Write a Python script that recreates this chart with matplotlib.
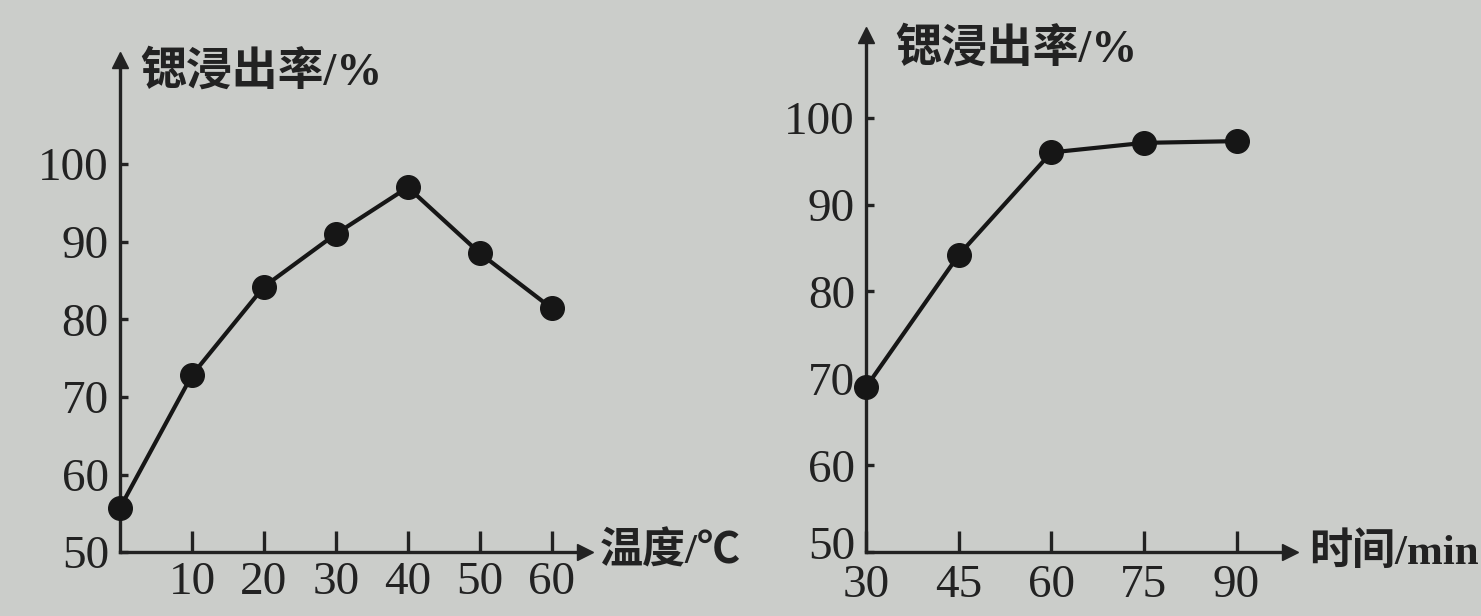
import matplotlib.pyplot as plt
from matplotlib.transforms import ScaledTranslation

# 温度 vs 锶浸出率
temp = [0, 10, 20, 30, 40, 50, 60]
rate_temp = [55.7, 72.8, 84.2, 91.0, 97.0, 88.5, 81.4]
temp_ticks = [10, 20, 30, 40, 50, 60]

# 时间 vs 锶浸出率
time_min = [30, 45, 60, 75, 90]
rate_time = [69.0, 84.2, 96.0, 97.1, 97.3]
time_ticks = [30, 45, 60, 75, 90]

y_ticks = [50, 60, 70, 80, 90, 100]
ylabel = "锶浸出率/%"

bg = "#cbcdca"
ink = "#222222"
fam = ["Liberation Serif", "Noto Sans CJK SC"]
plt.rcParams["font.family"] = fam

fig = plt.figure(figsize=(14.81, 6.16), dpi=100, facecolor=bg)
ax1 = fig.add_axes([0.081, 0.1036, 0.314, 0.799])
ax2 = fig.add_axes([0.5848, 0.1036, 0.286, 0.8394])


def style(ax, xticks, xlim, ylim, xlabel, title_pos, xlab_x, xpad):
    ax.set_facecolor(bg)
    for s in ("top", "right"):
        ax.spines[s].set_visible(False)
    for s in ("left", "bottom"):
        ax.spines[s].set_linewidth(2.4)
        ax.spines[s].set_color(ink)
    ax.set_xlim(*xlim)
    ax.set_ylim(*ylim)
    ax.set_xticks(xticks)
    ax.set_yticks(y_ticks)
    ax.tick_params(axis="x", direction="in", length=15, width=2.4, color=ink,
                   labelsize=34, labelcolor=ink, pad=xpad)
    ax.tick_params(axis="y", direction="in", length=6, width=2.4, color=ink,
                   labelsize=34, labelcolor=ink, pad=8)
    # arrow heads at the axis ends
    ax.plot(1, 0, ">", color=ink, ms=11, transform=ax.transAxes, clip_on=False)
    ax.plot(0, 1, "^", color=ink, ms=11, transform=ax.transAxes, clip_on=False)
    ax.text(title_pos[0], title_pos[1], ylabel, transform=ax.transAxes, fontsize=33,
            color=ink, ha="left", va="center", fontweight="bold")
    ax.text(xlab_x, 0.0, xlabel, transform=ax.transAxes, fontsize=31,
            color=ink, ha="left", va="center", fontweight="bold")


style(ax1, temp_ticks, (0, 64.6), (50, 113.4), "温度/℃", (0.043, 0.975), 1.032, 7)
style(ax2, time_ticks, (30, 98.6), (50, 109.5), "时间/min", (0.068, 0.971), 1.047, 9)

# the "50" label of the right panel sits a little above the axis, as in the source
lab50 = ax2.get_yticklabels()[0]
lab50.set_transform(lab50.get_transform() + ScaledTranslation(0, 7 / 72, fig.dpi_scale_trans))

ax1.plot(temp, rate_temp, "-o", color="#161616", lw=3, ms=17, clip_on=False, zorder=5)
ax2.plot(time_min, rate_time, "-o", color="#161616", lw=3, ms=17, clip_on=False, zorder=5)

fig.savefig("out.png", dpi=100, facecolor=bg)
